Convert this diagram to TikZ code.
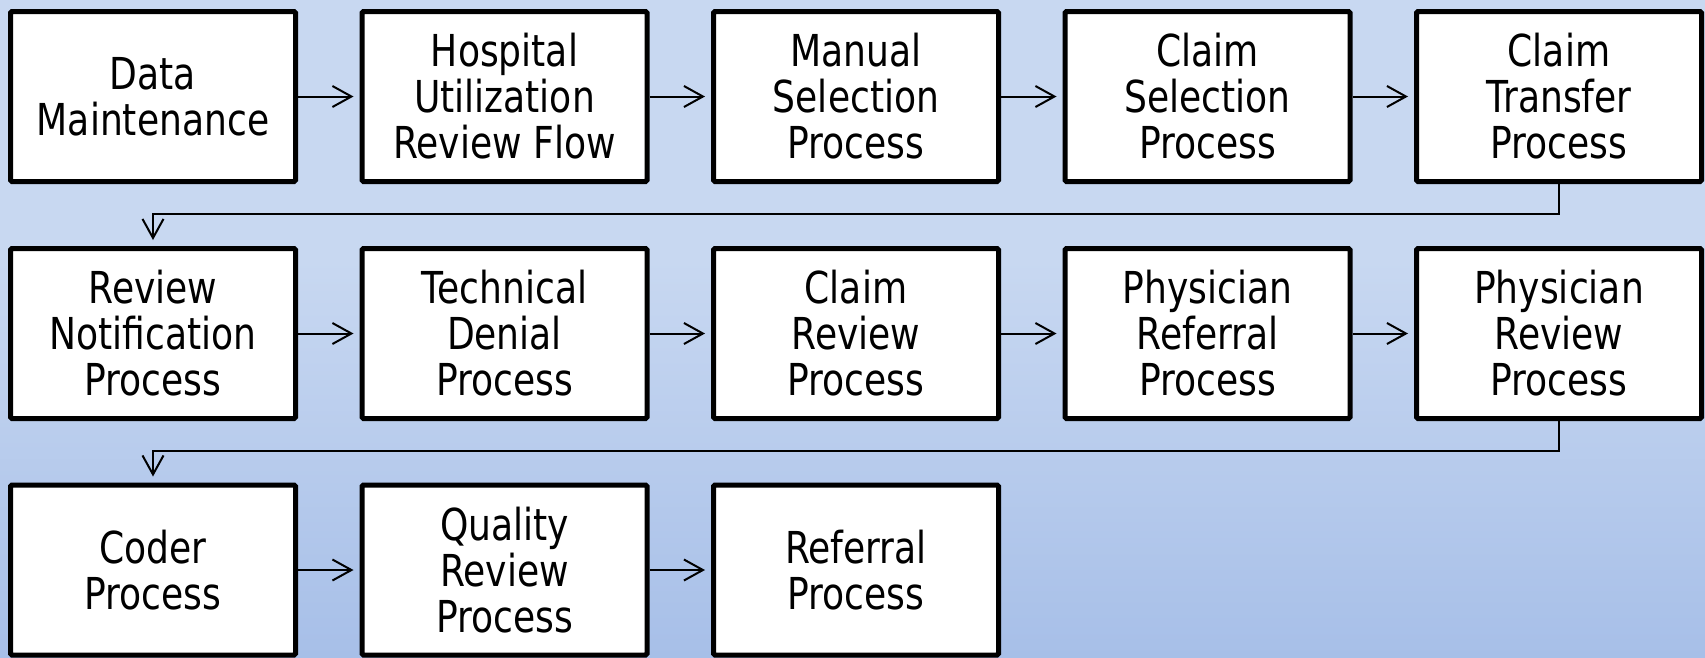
\documentclass[tikz,border=0pt]{standalone}
\usepackage{fontspec}
\setmainfont[FakeStretch=0.82]{DejaVu Sans}
\usetikzlibrary{arrows.meta}
\definecolor{bgtop}{RGB}{200,216,241}
\definecolor{bgbot}{RGB}{167,191,232}
\tikzset{
  procbox/.style={draw=black, line width=5pt, fill=white, rounded corners=1.5pt,
    minimum width=285pt, minimum height=170pt, inner sep=0pt, align=center,
    font=\fontsize{44pt}{46pt}\selectfont},
  flow/.style={draw=black, line width=2pt, shorten >=6pt,
    -{Straight Barb[length=19pt,width=21pt,line width=2pt]}},
}
\begin{document}
\begin{tikzpicture}[x=1pt,y=-1pt]
\useasboundingbox (0,0) rectangle (1705,657);
\fill[bgtop] (0,0) rectangle (1705,657);
\shade[top color=bgtop, bottom color=bgbot] (0,260) rectangle (1705,657);
% row 1
\node[procbox] (a1) at (153,96.5) {Data\\Maintenance};
\node[procbox] (a2) at (504.5,96.5) {Hospital\\Utilization\\Review Flow};
\node[procbox] (a3) at (856,96.5) {Manual\\Selection\\Process};
\node[procbox] (a4) at (1207.5,96.5) {Claim\\Selection\\Process};
\node[procbox] (a5) at (1559,96.5) {Claim\\Transfer\\Process};
% row 2
\node[procbox] (b1) at (153,333.5) {Review\\Notification\\Process};
\node[procbox] (b2) at (504.5,333.5) {Technical\\Denial\\Process};
\node[procbox] (b3) at (856,333.5) {Claim\\Review\\Process};
\node[procbox] (b4) at (1207.5,333.5) {Physician\\Referral\\Process};
\node[procbox] (b5) at (1559,333.5) {Physician\\Review\\Process};
% row 3
\node[procbox] (c1) at (153,570) {Coder\\Process};
\node[procbox] (c2) at (504.5,570) {Quality\\Review\\Process};
\node[procbox] (c3) at (856,570) {Referral\\Process};
% connectors
\draw[flow] (a1) -- (a2);
\draw[flow] (a2) -- (a3);
\draw[flow] (a3) -- (a4);
\draw[flow] (a4) -- (a5);
\draw[flow] (b1) -- (b2);
\draw[flow] (b2) -- (b3);
\draw[flow] (b3) -- (b4);
\draw[flow] (b4) -- (b5);
\draw[flow] (c1) -- (c2);
\draw[flow] (c2) -- (c3);
\draw[flow] (a5.south) -- ++(0,30) -| (b1.north);
\draw[flow] (b5.south) -- ++(0,30) -| (c1.north);
\end{tikzpicture}
\end{document}
